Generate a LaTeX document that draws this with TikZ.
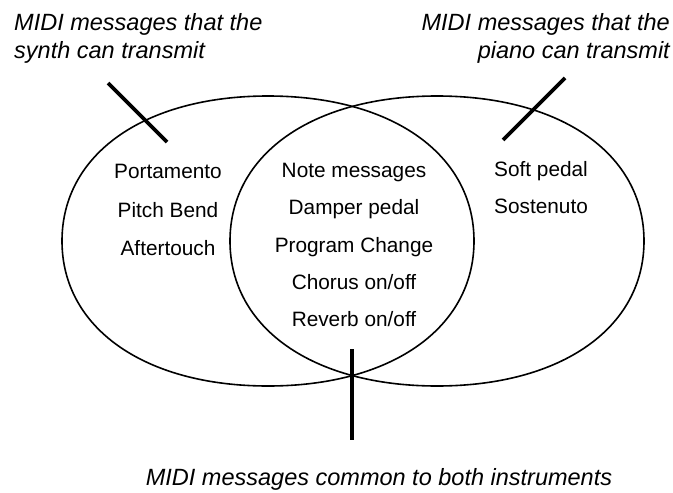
\documentclass[tikz,border=0pt]{standalone}
\usepackage{fontspec}
\setmainfont{Liberation Sans}

\begin{document}
\begin{tikzpicture}[x=1pt, y=-1pt,
    oval/.style={line width=1.6pt},
    item/.style={inner sep=0pt, anchor=base, font=\fontsize{20.8}{25}\selectfont},
    caption/.style={inner sep=0pt, font=\fontsize{23.5}{28}\selectfont\itshape},
    pointer/.style={line width=3.8pt}]
    \useasboundingbox (0,0) rectangle (673,493);

    % synth (left) and piano (right)
    \draw[oval] (474,241) .. controls (474,328) and (391.6,386) .. (268,386)
        .. controls (144.4,386) and (62,328) .. (62,241)
        .. controls (62,154) and (144.4,96) .. (268,96)
        .. controls (391.6,96) and (474,154) .. cycle;
    \draw[oval] (644,241) .. controls (644,328) and (561.2,386) .. (437,386)
        .. controls (312.8,386) and (230,328) .. (230,241)
        .. controls (230,154) and (312.8,96) .. (437,96)
        .. controls (561.2,96) and (644,154) .. cycle;

    \node[caption, anchor=base west] (synthA) at (14,30) {MIDI messages that the};
    \node[caption, anchor=base west] (synthB) at (14,58) {synth can transmit};
    \node[caption, anchor=base east] (pianoA) at (670,30) {MIDI messages that the};
    \node[caption, anchor=base east] (pianoB) at (670,58) {piano can transmit};
    \node[caption, anchor=base] (common) at (379,485) {MIDI messages common to both instruments};

    \node[item] (porta) at (168,178) {Portamento};
    \node[item] (bend) at (168,217) {Pitch Bend};
    \node[item] (after) at (168,255) {Aftertouch};

    \node[item] (note) at (354,177) {Note messages};
    \node[item] (damper) at (354,214) {Damper pedal};
    \node[item] (program) at (354,252) {Program Change};
    \node[item] (chorus) at (354,289) {Chorus on/off};
    \node[item] (reverb) at (354,326) {Reverb on/off};

    \node[item, anchor=base west] (soft) at (494,176) {Soft pedal};
    \node[item, anchor=base west] (sost) at (494,213) {Sostenuto};

    \coordinate (synthTop) at (108,83);
    \coordinate (synthEnd) at (167,142);
    \coordinate (pianoTop) at (565,78);
    \coordinate (pianoEnd) at (503,140);
    \coordinate (commonTop) at (352,349);
    \coordinate (commonEnd) at (352,440);

    \draw[pointer] (synthTop) -- (synthEnd);
    \draw[pointer] (pianoTop) -- (pianoEnd);
    \draw[line width=3.4pt] (commonTop) -- (commonEnd);
\end{tikzpicture}
\end{document}
